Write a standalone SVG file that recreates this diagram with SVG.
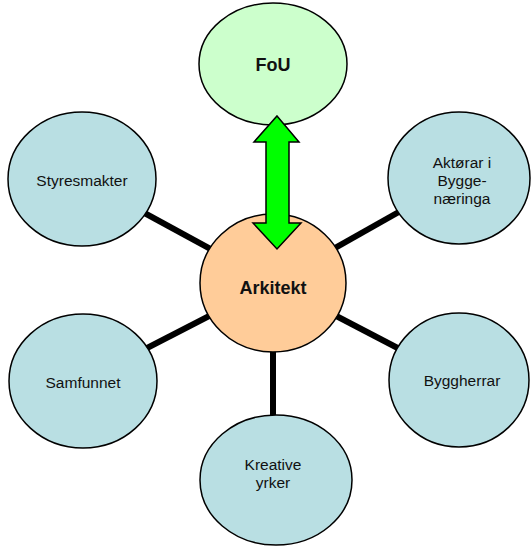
<svg xmlns="http://www.w3.org/2000/svg" width="532" height="546" viewBox="0 0 532 546">
<style>
.n{stroke:#000;stroke-width:1.5}
.b{fill:#B9DFE3}
.t{font-family:"Liberation Sans",Arial,sans-serif;font-size:15.5px;fill:#111;text-anchor:middle;dominant-baseline:central}
.tb{font-family:"Liberation Sans",Arial,sans-serif;font-size:18px;font-weight:bold;fill:#111;text-anchor:middle;dominant-baseline:central}
.c{stroke:#000;stroke-width:6;fill:none}
</style>
<rect width="532" height="546" fill="#fff"/>
<g id="connectors">
<line class="c" x1="82" y1="179" x2="273" y2="283"/>
<line class="c" x1="459" y1="178" x2="273" y2="283"/>
<line class="c" x1="83" y1="381" x2="273" y2="283"/>
<line class="c" x1="459" y1="380" x2="273" y2="283"/>
<line class="c" x1="273" y1="480" x2="273" y2="283"/>
</g>
<g id="fou">
<ellipse class="n" cx="273" cy="64" rx="74" ry="61" fill="#CCFFCC"/>
<text class="tb" x="273" y="65">FoU</text>
</g>
<g id="styresmakter">
<ellipse class="n b" cx="82" cy="179" rx="74" ry="67"/>
<text class="t" x="82" y="180">Styresmakter</text>
</g>
<g id="aktorar">
<ellipse class="n b" cx="459" cy="178" rx="71" ry="66"/>
<text class="t" x="462" y="162">Aktørar i</text>
<text class="t" x="462" y="180">Bygge-</text>
<text class="t" x="462" y="198">næringa</text>
</g>
<g id="samfunnet">
<ellipse class="n b" cx="83" cy="381" rx="74" ry="67"/>
<text class="t" x="83" y="382">Samfunnet</text>
</g>
<g id="byggherrar">
<ellipse class="n b" cx="459" cy="380" rx="70" ry="67"/>
<text class="t" x="462" y="380">Byggherrar</text>
</g>
<g id="kreative">
<ellipse class="n b" cx="276" cy="480" rx="76" ry="65"/>
<text class="t" x="273" y="464">Kreative</text>
<text class="t" x="273" y="482">yrker</text>
</g>
<g id="arkitekt">
<ellipse class="n" cx="273" cy="283" rx="73" ry="69" fill="#FFCC99"/>
<text class="tb" x="273" y="288">Arkitekt</text>
</g>
<g id="arrow">
<polygon points="277,116 299,142 289,142 289,223 301,223 277,249 253,223 266,223 266,142 254,142" fill="#00FF00" stroke="#000" stroke-width="1.5" stroke-linejoin="miter"/>
</g>
</svg>
